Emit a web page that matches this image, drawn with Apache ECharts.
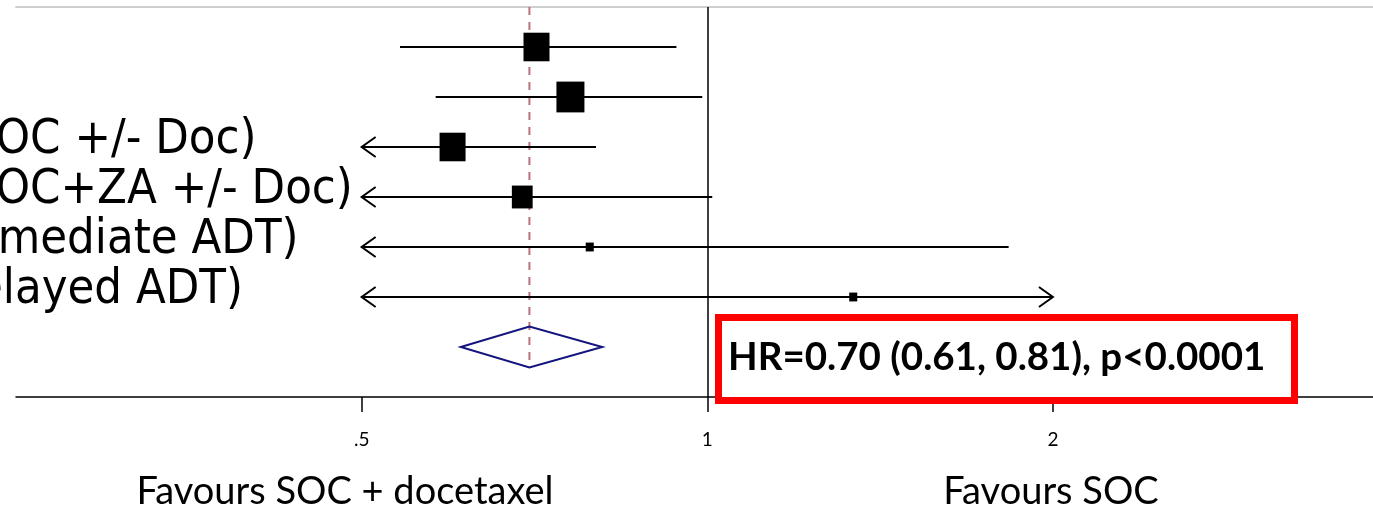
<!DOCTYPE html>
<html>
<head>
<meta charset="utf-8">
<script src="https://cdn.jsdelivr.net/npm/echarts@6/dist/echarts.min.js"></script>
<style>
  html, body { margin: 0; padding: 0; background: #ffffff; }
  #chart { width: 1373px; height: 509px; }
</style>
</head>
<body>
<div id="chart"></div>
<script>
// Trial-level hazard ratios with 95% confidence intervals
const studies = [
  'GETUG-12',
  'RTOG 0521',
  'STAMPEDE (SOC +/- Doc)',
  'STAMPEDE (SOC+ZA +/- Doc)',
  'TAX 3501 (Immediate ADT)',
  'TAX 3501 (Delayed ADT)'
];
const hazardRatios = [0.71, 0.76, 0.60, 0.69, 0.79, 1.34];
const ciLower      = [0.54, 0.58, 0.45, 0.47, 0.34, 0.47];
const ciUpper      = [0.94, 0.99, 0.80, 1.01, 1.83, 3.60];
const weights      = [25, 29, 25, 16, 2.4, 2.4];

// Pooled estimate
const pooledHR = 0.70;
const pooledLower = 0.61;
const pooledUpper = 0.81;
const pooledP = 'p<0.0001';

// Axis ticks
const tickValues = [0.5, 1, 2];
const tickLabels = ['.5', '1', '2'];

// CIs are drawn inside this window; anything beyond gets an arrow
const displayMin = 0.5;
const displayMax = 2;

const sideLabels = ['Favours SOC + docetaxel', 'Favours SOC'];

const studyRows = studies.map((s, i) => [i + 1, hazardRatios[i], ciLower[i], ciUpper[i], weights[i]]);
const pooledRow = studies.length + 1;

const boxScale = 5.2;       // square side per sqrt(weight)
const labelStartX = -296;   // study names start left of the visible area
const labelFont = "'DejaVu Sans Condensed', 'DejaVu Sans', sans-serif";
const plainFont = "Lato, 'Open Sans', sans-serif";

function arrow(tip, dir) {
  const len = 14, half = 10;
  return {
    type: 'polyline',
    shape: { points: [[tip[0] + dir * len, tip[1] - half], [tip[0], tip[1]], [tip[0] + dir * len, tip[1] + half]] },
    style: { stroke: '#000', lineWidth: 2, fill: null }
  };
}

function renderStudy(params, api) {
  const i = params.dataIndex;
  const row = api.value(0);
  const est = api.value(1), lo = api.value(2), hi = api.value(3), w = api.value(4);
  const pL = api.coord([Math.max(lo, displayMin), row]);
  const pR = api.coord([Math.min(hi, displayMax), row]);
  const pE = api.coord([est, row]);
  const children = [{
    type: 'line',
    shape: { x1: pL[0], y1: pL[1], x2: pR[0], y2: pR[1] },
    style: { stroke: '#000', lineWidth: 2 }
  }];
  if (lo < displayMin) children.push(arrow(pL, 1));
  if (hi > displayMax) children.push(arrow(pR, -1));
  const side = boxScale * Math.sqrt(w);
  children.push({
    type: 'rect',
    shape: { x: pE[0] - side / 2, y: pE[1] - side * 0.55, width: side, height: side * 1.1 },
    style: { fill: '#000' }
  });
  children.push({
    type: 'text',
    x: labelStartX,
    y: pE[1] - 7,
    style: {
      text: studies[i],
      font: "48.5px " + labelFont,
      fill: '#000',
      align: 'left',
      verticalAlign: 'middle'
    }
  });
  return { type: 'group', children };
}

function renderPooled(params, api) {
  const row = api.value(0);
  const half = 0.41;
  const top = api.coord([pooledHR, row - half]);
  const bottom = api.coord([pooledHR, row + half]);
  const left = api.coord([pooledLower, row]);
  const right = api.coord([pooledUpper, row]);
  const yTop = api.coord([pooledHR, 0.2]);
  return {
    type: 'group',
    children: [
      {
        type: 'line',
        shape: { x1: yTop[0], y1: yTop[1], x2: bottom[0], y2: bottom[1] },
        style: { stroke: '#b8727c', lineWidth: 2, lineDash: [8, 7] }
      },
      {
        type: 'polygon',
        shape: { points: [left, top, right, bottom] },
        style: { stroke: '#14147e', lineWidth: 2, fill: null }
      }
    ]
  };
}

const chart = echarts.init(document.getElementById('chart'), null, { renderer: 'canvas' });

const hrText = 'HR=' + pooledHR.toFixed(2) + ' (' + pooledLower.toFixed(2) + ', ' + pooledUpper.toFixed(2) + '), ' + pooledP;

const axisMin = 0.25;
const axisMax = 3.8;

chart.setOption({
  animation: false,
  backgroundColor: '#ffffff',
  grid: { left: 16, right: 0, top: 7, bottom: 112 },
  xAxis: [
    {
      type: 'log',
      logBase: 2,
      min: axisMin,
      max: axisMax,
      position: 'bottom',
      axisLine: { show: true, lineStyle: { color: '#000', width: 1.5 } },
      axisTick: { show: true, customValues: tickValues, length: 15, lineStyle: { color: '#000', width: 1.5 } },
      axisLabel: {
        show: true,
        customValues: tickValues,
        margin: 33,
        fontSize: 19,
        fontFamily: plainFont,
        color: '#000',
        formatter: function (v) {
          const k = tickValues.findIndex(t => Math.abs(t - v) < 1e-9);
          return k >= 0 ? tickLabels[k] : '';
        }
      },
      splitLine: { show: false }
    },
    {
      type: 'log',
      logBase: 2,
      min: axisMin,
      max: axisMax,
      position: 'top',
      axisLine: { show: true, lineStyle: { color: '#cfcfcf', width: 2 } },
      axisTick: { show: false },
      axisLabel: { show: false },
      splitLine: { show: false }
    }
  ],
  yAxis: {
    type: 'value',
    inverse: true,
    min: 0.2,
    max: 8,
    show: false
  },
  series: [
    {
      type: 'custom',
      name: 'studies',
      data: studyRows,
      encode: { x: [1, 2, 3], y: 0 },
      renderItem: renderStudy,
      clip: false,
      silent: true,
      z: 5,
      markLine: {
        silent: true,
        symbol: ['none', 'none'],
        label: { show: false },
        lineStyle: { color: '#000', width: 1.5, type: 'solid' },
        data: [{ xAxis: 1 }]
      }
    },
    {
      type: 'custom',
      name: 'pooled',
      data: [[pooledRow, pooledHR, pooledLower, pooledUpper]],
      encode: { x: [1, 2, 3], y: 0 },
      renderItem: renderPooled,
      clip: false,
      silent: true,
      z: 4
    }
  ],
  graphic: [
    {
      type: 'rect',
      z: 100,
      shape: { x: 718.5, y: 317.5, width: 576, height: 83 },
      style: { fill: '#ffffff', stroke: '#ff0000', lineWidth: 7 }
    },
    {
      type: 'text',
      z: 101,
      x: 728,
      y: 358,
      style: { text: hrText, font: "bold 38.5px " + plainFont, fill: '#000', align: 'left', verticalAlign: 'middle' }
    },
    {
      type: 'text',
      z: 101,
      x: 345,
      y: 492,
      style: { text: sideLabels[0], font: "38px " + plainFont, fill: '#000', align: 'center', verticalAlign: 'middle' }
    },
    {
      type: 'text',
      z: 101,
      x: 1051,
      y: 492,
      style: { text: sideLabels[1], font: "38px " + plainFont, fill: '#000', align: 'center', verticalAlign: 'middle' }
    }
  ]
});
</script>
</body>
</html>
